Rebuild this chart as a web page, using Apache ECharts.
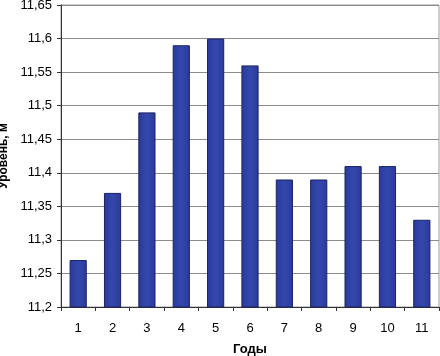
<!DOCTYPE html>
<html><head><meta charset="utf-8">
<script src="https://cdn.jsdelivr.net/npm/echarts@6/dist/echarts.min.js"></script>
<style>html,body{margin:0;padding:0;background:#fff}#c{width:440px;height:356px}</style>
</head><body><div id="c"></div>
<script>
const categories = ['1','2','3','4','5','6','7','8','9','10','11'];
const levels = [11.27, 11.37, 11.49, 11.59, 11.60, 11.56, 11.39, 11.39, 11.41, 11.41, 11.33];
const yMin = 11.2, yMax = 11.65, yStep = 0.05;
const xTitle = 'Годы', yTitle = 'Уровень, м';

const chart = echarts.init(document.getElementById('c'), null, {renderer: 'canvas'});
chart.setOption({
  animation: false,
  grid: {left: 61, right: 1, top: 5, bottom: 49, show: true, borderColor: '#999', borderWidth: 1,
         containLabel: false, outerBoundsMode: 'none'},
  xAxis: {
    type: 'category', data: categories,
    name: xTitle, nameLocation: 'middle', nameGap: 36,
    nameTextStyle: {fontFamily: 'Liberation Sans', fontWeight: 'bold', fontSize: 13, color: '#000'},
    axisLine: {lineStyle: {color: '#333'}},
    axisTick: {show: true, alignWithLabel: false, length: 4, lineStyle: {color: '#333'}},
    axisLabel: {fontFamily: 'Liberation Sans', fontSize: 13, color: '#000', margin: 15}
  },
  yAxis: {
    type: 'value', min: yMin, max: yMax, interval: yStep,
    name: yTitle, nameLocation: 'middle', nameGap: 45,
    nameTextStyle: {fontFamily: 'Liberation Sans', fontWeight: 'bold', fontSize: 12, color: '#000'},
    axisLine: {show: true, lineStyle: {color: '#333'}},
    axisTick: {show: true, length: 4, lineStyle: {color: '#333'}},
    splitLine: {lineStyle: {color: '#8c8c8c'}},
    axisLabel: {fontFamily: 'Liberation Sans', fontSize: 13, color: '#000', margin: 9,
      formatter: v => String(Math.round(v*100)/100).replace('.', ',')}
  },
  series: [{
    type: 'bar', data: levels, barWidth: '50%',
    itemStyle: {
      color: new echarts.graphic.LinearGradient(0,0,1,0,[
        {offset:0,color:'#2a3a9a'},{offset:0.5,color:'#3448ac'},{offset:1,color:'#2a3a9a'}]),
      borderColor: '#1b2266', borderWidth: 1
    }
  }]
});
</script></body></html>
